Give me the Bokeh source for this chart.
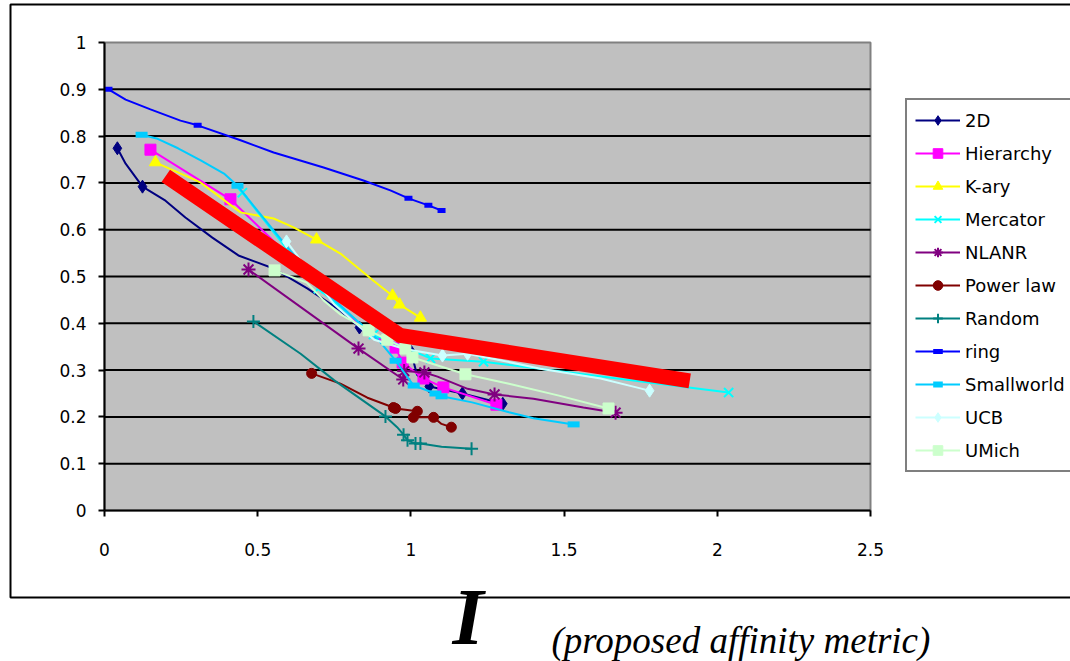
import numpy as np
from bokeh.plotting import figure
from bokeh.models import Range1d, FixedTicker, Legend, LegendItem, Label, BoxAnnotation
from bokeh.embed import file_html
from bokeh.resources import INLINE

# ---------------- data ----------------
x_ticks = [0, 0.5, 1, 1.5, 2, 2.5]
x_tick_labels = ["0", "0.5", "1", "1.5", "2", "2.5"]
y_ticks = [0, 0.1, 0.2, 0.3, 0.4, 0.5, 0.6, 0.7, 0.8, 0.9, 1]
y_tick_labels = ["0", "0.1", "0.2", "0.3", "0.4", "0.5", "0.6", "0.7", "0.8", "0.9", "1"]
grid_ticks = [0.1, 0.2, 0.3, 0.4, 0.5, 0.6, 0.7, 0.8, 0.9]

d2_line_x = [0.042, 0.069, 0.124, 0.199, 0.264, 0.352, 0.437, 0.552, 0.663, 0.770, 0.832, 1.0, 1.02, 1.06, 1.168, 1.30]
d2_line_y = [0.774, 0.741, 0.692, 0.662, 0.626, 0.583, 0.545, 0.517, 0.474, 0.427, 0.391, 0.34, 0.29, 0.265, 0.25, 0.228]
d2_mark_x = [0.042, 0.124, 0.832, 1.0, 1.06, 1.168, 1.30]
d2_mark_y = [0.774, 0.692, 0.391, 0.34, 0.265, 0.25, 0.228]

hier_line_x = [0.150, 0.411, 0.86, 0.950, 0.973, 1.041, 1.106, 1.279]
hier_line_y = [0.771, 0.665, 0.38, 0.348, 0.316, 0.282, 0.263, 0.226]
hier_mark_x = [0.150, 0.411, 0.950, 0.973, 1.041, 1.106, 1.279]
hier_mark_y = [0.771, 0.665, 0.348, 0.316, 0.282, 0.263, 0.226]

kary_line_x = [0.166, 0.313, 0.444, 0.552, 0.617, 0.692, 0.770, 0.878, 0.940, 0.963, 1.031]
kary_line_y = [0.744, 0.701, 0.637, 0.624, 0.605, 0.579, 0.549, 0.491, 0.459, 0.440, 0.412]
kary_mark_x = [0.166, 0.692, 0.940, 0.963, 1.031]
kary_mark_y = [0.744, 0.579, 0.459, 0.440, 0.412]

merc_line_x = [0.450, 0.698, 0.878, 1.064, 1.237, 2.037]
merc_line_y = [0.679, 0.474, 0.376, 0.325, 0.318, 0.252]
merc_mark_x = [0.450, 0.698, 0.878, 1.064, 1.237, 2.037]
merc_mark_y = [0.679, 0.474, 0.376, 0.325, 0.318, 0.252]

nlanr_line_x = [0.470, 0.829, 0.975, 0.978, 1.044, 1.087, 1.185, 1.273, 1.40, 1.563, 1.668]
nlanr_line_y = [0.515, 0.346, 0.280, 0.298, 0.295, 0.286, 0.260, 0.248, 0.239, 0.220, 0.209]
nlanr_mark_x = [0.470, 0.829, 0.975, 0.978, 1.044, 1.273, 1.668]
nlanr_mark_y = [0.515, 0.346, 0.280, 0.298, 0.295, 0.248, 0.209]

pow_line_x = [0.676, 0.77, 0.858, 0.943, 0.95, 1.021, 1.008, 1.074, 1.10, 1.132]
pow_line_y = [0.293, 0.271, 0.241, 0.220, 0.218, 0.212, 0.199, 0.199, 0.185, 0.178]
pow_mark_x = [0.676, 0.943, 0.95, 1.021, 1.008, 1.074, 1.132]
pow_mark_y = [0.293, 0.220, 0.218, 0.212, 0.199, 0.199, 0.178]

rand_line_x = [0.486, 0.64, 0.75, 0.917, 0.955, 0.976, 0.989, 1.015, 1.031, 1.10, 1.198]
rand_line_y = [0.404, 0.335, 0.278, 0.201, 0.178, 0.162, 0.150, 0.143, 0.143, 0.136, 0.132]
rand_mark_x = [0.486, 0.917, 0.976, 0.989, 1.015, 1.031, 1.198]
rand_mark_y = [0.404, 0.201, 0.162, 0.150, 0.143, 0.143, 0.132]

ring_line_x = [0.013, 0.069, 0.150, 0.248, 0.304, 0.444, 0.552, 0.715, 0.845, 0.933, 0.992, 1.057, 1.10]
ring_line_y = [0.900, 0.878, 0.857, 0.833, 0.823, 0.791, 0.765, 0.733, 0.705, 0.684, 0.667, 0.652, 0.641]
ring_mark_x = [0.013, 0.304, 0.992, 1.057, 1.10]
ring_mark_y = [0.900, 0.823, 0.667, 0.652, 0.641]

sw_line_x = [0.121, 0.17, 0.24, 0.314, 0.39, 0.434, 0.50, 0.60, 0.75, 0.90, 0.95, 1.009, 1.08, 1.10, 1.20, 1.32, 1.40, 1.531]
sw_line_y = [0.803, 0.795, 0.774, 0.748, 0.72, 0.694, 0.64, 0.56, 0.45, 0.36, 0.320, 0.267, 0.25, 0.244, 0.231, 0.21, 0.197, 0.184]
sw_mark_x = [0.121, 0.434, 0.95, 1.009, 1.08, 1.10, 1.531]
sw_mark_y = [0.803, 0.694, 0.320, 0.267, 0.25, 0.244, 0.184]

ucb_line_x = [0.594, 0.75, 0.88, 0.98, 1.103, 1.185, 1.292, 1.423, 1.619, 1.749, 1.779]
ucb_line_y = [0.575, 0.44, 0.365, 0.345, 0.331, 0.335, 0.321, 0.303, 0.282, 0.261, 0.256]
ucb_mark_x = [0.594, 1.103, 1.185, 1.779]
ucb_mark_y = [0.575, 0.331, 0.335, 0.256]

um_line_x = [0.555, 0.66, 0.715, 0.77, 0.862, 0.923, 0.982, 1.005, 1.178, 1.32, 1.48, 1.645]
um_line_y = [0.513, 0.487, 0.449, 0.419, 0.385, 0.365, 0.346, 0.327, 0.291, 0.271, 0.246, 0.218]
um_mark_x = [0.555, 0.862, 0.923, 0.982, 1.005, 1.178, 1.645]
um_mark_y = [0.513, 0.385, 0.365, 0.346, 0.327, 0.291, 0.218]

trend_x = [0.20, 0.965, 1.91]
trend_y = [0.715, 0.374, 0.277]

# --------------- layout (pixels) ----------------
W, H = 1070, 661
PLOT_L, PLOT_R, PLOT_T, PLOT_B = 104, 870, 42, 510   # plot-area edges in canvas pixels
sx = (PLOT_R - PLOT_L) / (x_ticks[-1] - x_ticks[0])
sy = (PLOT_B - PLOT_T) / (y_ticks[-1] - y_ticks[0])
x_start = x_ticks[0] - PLOT_L / sx
x_end = x_start + W / sx
y_start = y_ticks[0] - (H - PLOT_B) / sy
y_end = y_start + H / sy

p = figure(width=W, height=H, output_backend="svg", toolbar_location=None,
           x_range=Range1d(x_start, x_end), y_range=Range1d(y_start, y_end),
           min_border=0, min_border_left=0, min_border_right=0,
           min_border_top=0, min_border_bottom=0)
p.background_fill_color = "white"
p.border_fill_color = "white"
p.outline_line_color = None
p.grid.visible = False

for ax, ticks, labels in ((p.xaxis, x_ticks, x_tick_labels), (p.yaxis, y_ticks, y_tick_labels)):
    ax.ticker = FixedTicker(ticks=ticks)
    ax.major_label_overrides = dict(zip(ticks, labels))
    ax.bounds = (ticks[0], ticks[-1])
    ax.axis_line_color = "black"
    ax.axis_line_width = 2
    ax.major_tick_line_color = "black"
    ax.major_tick_line_width = 2
    ax.major_tick_out = 6
    ax.major_tick_in = 0
    ax.minor_tick_line_color = None
    ax.major_label_text_font = "DejaVu Sans"
    ax.major_label_text_font_size = "17px"
    ax.major_label_text_color = "black"
p.xaxis.fixed_location = y_ticks[0]
p.yaxis.fixed_location = x_ticks[0]
p.xaxis.major_label_standoff = 26
p.yaxis.major_label_standoff = 12

# outer chart-area frame
p.add_layout(BoxAnnotation(left=10, right=W + 20, bottom=H - 597, top=H - 4,
                           left_units="screen", right_units="screen",
                           bottom_units="screen", top_units="screen",
                           fill_alpha=0, line_color="black", line_alpha=1,
                           line_width=2, level="underlay"))

# plot area and gridlines
p.quad(left=x_ticks[0], right=x_ticks[-1], bottom=y_ticks[0], top=y_ticks[-1],
       fill_color="#C0C0C0", line_color="#808080", line_width=2)
p.segment(x0=[x_ticks[0]] * len(grid_ticks), x1=[x_ticks[-1]] * len(grid_ticks),
          y0=grid_ticks, y1=grid_ticks, line_color="black", line_width=2)

series = [
    ("2D", "#000080", d2_line_x, d2_line_y, d2_mark_x, d2_mark_y, dict(marker="diamond", size=13)),
    ("Hierarchy", "#FF00FF", hier_line_x, hier_line_y, hier_mark_x, hier_mark_y, dict(marker="square", size=11)),
    ("K-ary", "#FFFF00", kary_line_x, kary_line_y, kary_mark_x, kary_mark_y, dict(marker="triangle", size=12)),
    ("Mercator", "#00FFFF", merc_line_x, merc_line_y, merc_mark_x, merc_mark_y, dict(marker="x", size=13, line_width=2)),
    ("NLANR", "#800080", nlanr_line_x, nlanr_line_y, nlanr_mark_x, nlanr_mark_y, dict(marker="asterisk", size=14, line_width=2)),
    ("Power law", "#800000", pow_line_x, pow_line_y, pow_mark_x, pow_mark_y, dict(marker="circle", size=10)),
    ("Random", "#008080", rand_line_x, rand_line_y, rand_mark_x, rand_mark_y, dict(marker="cross", size=13, line_width=2)),
    ("ring", "#0000FF", ring_line_x, ring_line_y, ring_mark_x, ring_mark_y, dict(marker="dash", size=8, line_width=5)),
    ("Smallworld", "#00CCFF", sw_line_x, sw_line_y, sw_mark_x, sw_mark_y, dict(marker="dash", size=12, line_width=6)),
    ("UCB", "#CCFFFF", ucb_line_x, ucb_line_y, ucb_mark_x, ucb_mark_y, dict(marker="diamond", size=13)),
    ("UMich", "#CCFFCC", um_line_x, um_line_y, um_mark_x, um_mark_y, dict(marker="square", size=11)),
]

items = []
for name, color, lx, ly, mx, my, mk in series:
    lr = p.line(lx, ly, line_color=color, line_width=2)
    sr = p.scatter(mx, my, fill_color=color, line_color=color, **mk)
    items.append(LegendItem(label=name, renderers=[lr, sr]))

p.line(trend_x, trend_y, line_color="#FF0000", line_width=15, line_join="miter", line_cap="butt")

PAD, GH, SP = 8, 24, 9
LEG_H = 2 * PAD + len(items) * GH + (len(items) - 1) * SP
legend = Legend(items=items, location=(905, H - (102 + LEG_H)), orientation="vertical",
                border_line_color="black", border_line_width=2, background_fill_color="white",
                background_fill_alpha=1, label_text_font="DejaVu Sans", label_text_font_size="18px",
                label_text_color="black", glyph_width=45, glyph_height=GH, label_height=20,
                spacing=SP, padding=PAD, margin=0, label_standoff=5)
p.add_layout(legend)

# x-axis title (y = vertical middle of the text)
p.add_layout(Label(x=452, y=H - 616, x_units="screen", y_units="screen", text="I",
                   text_font="Liberation Serif", text_font_style="bold italic",
                   text_font_size="80px", text_color="black", text_baseline="middle"))
p.add_layout(Label(x=551, y=H - 640, x_units="screen", y_units="screen",
                   text="(proposed affinity metric)",
                   text_font="Liberation Serif", text_font_style="italic",
                   text_font_size="37px", text_color="black", text_baseline="middle"))

open("out.html", "w").write(file_html(p, INLINE))
